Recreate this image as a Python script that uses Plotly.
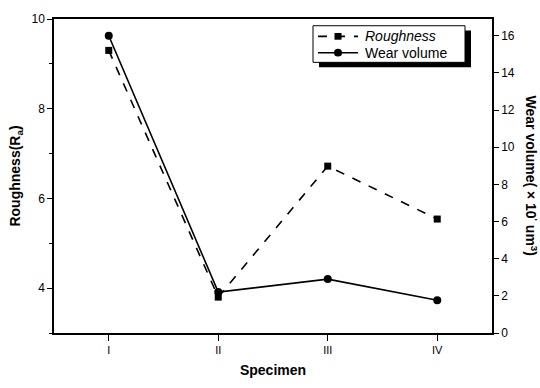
import plotly.graph_objects as go

specimens = ["I", "II", "III", "IV"]
roughness = [9.3, 3.8, 6.72, 5.54]
wear_volume = [16.0, 2.2, 2.9, 1.76]

FONT = "Liberation Sans, Arial, sans-serif"

# plot-area geometry (pixels) used to place the hand-drawn legend
L, R, T, B = 54, 492, 15, 341
def px(x):
    return (x - L) / (R - L)
def py(y):
    return (B - y) / (B - T)

fig = go.Figure()
fig.add_trace(go.Scatter(
    x=specimens, y=roughness, name="Roughness", mode="lines+markers",
    line=dict(color="black", width=1.6, dash="dash"),
    marker=dict(symbol="square", size=7, color="black"), yaxis="y", showlegend=False))
fig.add_trace(go.Scatter(
    x=specimens, y=wear_volume, name="Wear volume", mode="lines+markers",
    line=dict(color="black", width=1.6),
    marker=dict(symbol="circle", size=8, color="black"), yaxis="y2", showlegend=False))

R1, R2 = 33, 50
shapes = []
# legend shadow + box
shapes.append(dict(type="rect", xref="paper", yref="paper", x0=px(319), x1=px(471),
                   y0=py(65), y1=py(27), fillcolor="black", line=dict(width=0), layer="above"))
shapes.append(dict(type="rect", xref="paper", yref="paper", x0=px(313), x1=px(465),
                   y0=py(60), y1=py(22), fillcolor="white", line=dict(color="black", width=1),
                   layer="above"))
# legend samples
shapes.append(dict(type="line", xref="paper", yref="paper", x0=px(318), x1=px(358),
                   y0=py(R1), y1=py(R1), line=dict(color="black", width=1.6, dash="dash"),
                   layer="above"))
shapes.append(dict(type="rect", xref="paper", yref="paper", x0=px(334.5), x1=px(341.5),
                   y0=py(R1 + 3.5), y1=py(R1 - 3.5), fillcolor="black", line=dict(width=0),
                   layer="above"))
shapes.append(dict(type="line", xref="paper", yref="paper", x0=px(318), x1=px(358),
                   y0=py(R2), y1=py(R2), line=dict(color="black", width=1.6), layer="above"))
shapes.append(dict(type="circle", xref="paper", yref="paper", x0=px(334), x1=px(342),
                   y0=py(R2 + 4), y1=py(R2 - 4), fillcolor="black", line=dict(width=0),
                   layer="above"))

annotations = [
    dict(xref="paper", yref="paper", x=px(363), y=py(R1), xanchor="left", yanchor="middle",
         text="<i>Roughness</i>", showarrow=False, font=dict(size=14, family=FONT)),
    dict(xref="paper", yref="paper", x=px(363), y=py(R2), xanchor="left", yanchor="middle",
         text="Wear volume", showarrow=False, font=dict(size=14, family=FONT)),
    dict(xref="paper", yref="paper", x=1.065, y=0.5, xanchor="left", yanchor="middle",
         textangle=90, showarrow=False,
         text="<b>Wear volume( × 10<sup>'</sup> um<sup>3</sup>)</b>",
         font=dict(size=14, family=FONT)),
]

fig.update_layout(
    width=540, height=388,
    margin=dict(l=L, r=540 - R, t=T, b=388 - B),
    paper_bgcolor="white", plot_bgcolor="white",
    font=dict(family=FONT, color="black", size=12),
    showlegend=False,
    shapes=shapes, annotations=annotations,
    xaxis=dict(range=[-0.5, 3.5], showline=True, linecolor="black", linewidth=1.5,
               mirror=True, ticks="outside", ticklen=6, tickcolor="black",
               tickfont=dict(size=11, color="black"), showgrid=False, zeroline=False,
               title=dict(text="<b>Specimen</b>", font=dict(size=14), standoff=10)),
    yaxis=dict(range=[3, 10], tickvals=[4, 6, 8, 10], showline=True, linecolor="black",
               linewidth=1.5, ticks="outside", ticklen=5, tickcolor="black",
               minor=dict(tickvals=[3, 5, 7, 9], ticks="outside", ticklen=3, tickcolor="black"),
               showgrid=False, zeroline=False, tickfont=dict(size=12),
               title=dict(text="<b>Roughness(R<sub>a</sub>)</b>", font=dict(size=14), standoff=8)),
    yaxis2=dict(range=[0, 16.9], tickvals=list(range(0, 17, 2)), overlaying="y", side="right",
                showline=True, linecolor="black", linewidth=1.5, ticks="outside", ticklen=5,
                tickcolor="black", showgrid=False, zeroline=False, tickfont=dict(size=12)),
)

fig.write_html("out.html")
